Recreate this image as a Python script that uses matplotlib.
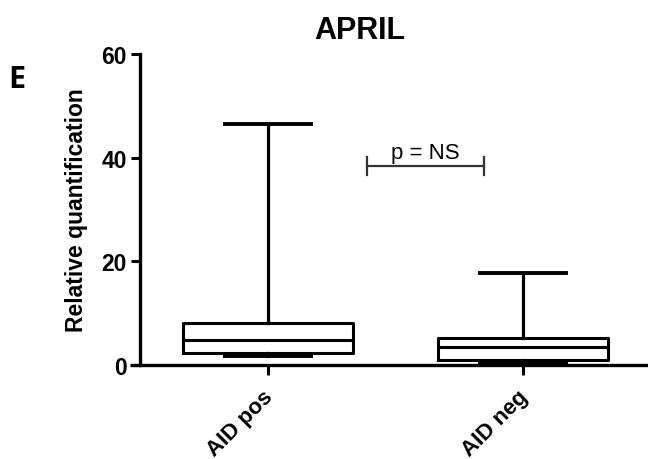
import matplotlib
matplotlib.use("Agg")
import matplotlib.pyplot as plt
from matplotlib.transforms import ScaledTranslation

# ---- data ----
categories = ["AID pos", "AID neg"]
whisker_low = [1.8, 0.45]
q1 = [2.3, 1.0]
median = [4.8, 3.55]
q3 = [8.1, 5.15]
whisker_high = [46.5, 17.7]
y_ticks = [0, 20, 40, 60]
title = "APRIL"
ylabel = "Relative quantification"
panel_letter = "E"
sig_text = "p = NS"

plt.rcParams['font.family'] = ['Liberation Sans', 'DejaVu Sans']
plt.rcParams['font.weight'] = 'bold'

fig = plt.figure(figsize=(6.48, 4.60), dpi=100)
ax = fig.add_axes([130 / 648, 94 / 460, 518 / 648, 311 / 460])

positions = [1, 2]
stats = []
for i, name in enumerate(categories):
    stats.append(dict(label=name, whislo=whisker_low[i], q1=q1[i], med=median[i],
                      q3=q3[i], whishi=whisker_high[i], fliers=[]))

ax.bxp(stats, positions=positions, widths=0.67, capwidths=0.34, showfliers=False,
       boxprops=dict(color='black', linewidth=2.2),
       medianprops=dict(color='black', linewidth=2.2),
       whiskerprops=dict(color='black', linewidth=2.3),
       capprops=dict(color='black', linewidth=2.8),
       manage_ticks=False)

ax.set_xlim(0.459, 2.49)
ax.set_ylim(0, 60)
ax.set_yticks(y_ticks)
ax.set_xticks(positions)
ax.set_xticklabels(categories, rotation=45, ha='right', rotation_mode='anchor',
                   fontsize=16, fontweight='bold')
ax.tick_params(axis='x', length=7, width=2.2, pad=6, direction='out')
ax.tick_params(axis='y', length=6.5, width=2.2, pad=3, labelsize=16.5, direction='out')
offset = ScaledTranslation(-6 / 100, -3 / 100, fig.dpi_scale_trans)
for lbl in ax.get_xticklabels():
    lbl.set_transform(lbl.get_transform() + offset)

ax.spines['top'].set_visible(False)
ax.spines['right'].set_visible(False)
ax.spines['left'].set_position(('data', 0.498))
ax.spines['left'].set_linewidth(2.4)
ax.spines['bottom'].set_linewidth(2.4)
ax.spines['bottom'].set_capstyle('butt')

ax.set_ylabel(ylabel, fontsize=16.5, fontweight='bold', va='center')
ax.yaxis.set_label_coords(-0.104, 0.5)

# significance bracket
bx0, bx1, by = 1.388, 1.847, 38.4
ax.plot([bx0, bx1], [by, by], color='#333333', lw=1.6)
ax.plot([bx0, bx0], [by - 1.7, by + 1.7], color='#333333', lw=1.6)
ax.plot([bx1, bx1], [by - 1.7, by + 1.7], color='#333333', lw=1.6)
ax.text((bx0 + bx1) / 2, by + 1.6, sig_text, ha='center', va='baseline',
        fontsize=16, fontweight='normal')

fig.text(360 / 648, 1 - 39 / 460, title, ha='center', va='baseline',
         fontsize=22, fontweight='bold')
fig.text(8 / 648, 1 - 88 / 460, panel_letter, ha='left', va='baseline',
         fontsize=22, fontweight='bold', family=['Open Sans', 'DejaVu Sans'])

fig.savefig("out.png", dpi=100)
